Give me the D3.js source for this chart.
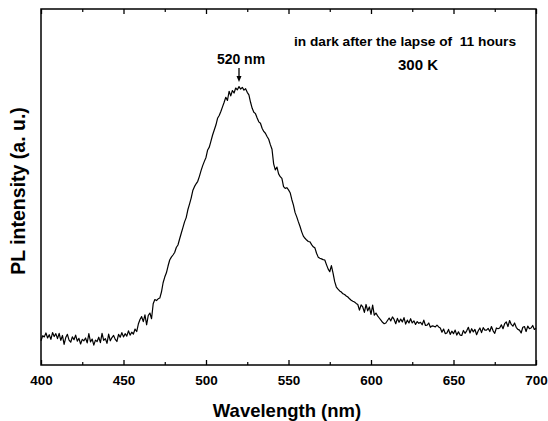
<!DOCTYPE html>
<html><head><meta charset="utf-8">
<script src="https://cdn.jsdelivr.net/npm/d3@7"></script>
<style>body{margin:0;background:#fff}svg{display:block}text{font-family:"Liberation Sans",Arial,sans-serif;fill:#000}</style>
</head><body><svg id="c" width="548" height="421"></svg>
<script>
const wlStart = 400, wlStep = 1;
const intensity = [
6.8,8.2,7.9,9.0,7.6,8.5,7.2,9.1,8.0,8.8,
7.4,8.9,6.9,8.3,5.8,7.7,8.6,7.0,6.4,7.9,
7.1,8.4,6.7,7.5,5.9,7.2,6.8,7.6,6.2,8.8,
6.5,7.3,5.6,7.0,6.6,7.8,6.3,8.9,6.9,7.4,
6.1,8.7,6.8,7.7,8.3,7.2,6.6,8.6,7.8,9.1,
7.9,8.8,8.1,9.6,8.4,9.2,8.7,10.1,9.4,11.5,
12.8,13.6,12.2,14.1,11.3,13.9,14.6,13.0,17.2,18.4,
18.1,18.6,18.8,20.5,23.1,24.7,25.9,27.8,29.5,30.3,
30.9,31.6,33.0,33.7,35.4,37.0,38.6,40.2,41.4,43.6,
45.2,46.9,49.0,50.1,50.9,51.6,53.0,54.6,56.0,57.2,
58.3,60.4,61.2,62.9,64.6,66.0,67.4,69.3,70.1,71.2,
72.5,73.8,75.2,74.3,76.9,75.6,77.1,76.4,77.8,77.3,
78.2,77.5,78.0,77.2,77.6,76.6,75.9,73.8,72.1,71.0,
70.6,69.4,68.3,67.9,66.5,65.6,65.1,64.2,63.4,61.9,
60.6,56.5,54.8,55.6,53.7,52.9,52.4,50.1,49.6,49.8,
49.2,48.4,46.5,44.9,42.8,41.6,40.2,38.9,37.4,36.2,
35.6,35.1,34.7,34.6,33.8,33.2,32.9,31.4,30.3,30.0,
29.8,29.6,29.5,28.2,27.0,26.2,27.9,25.8,23.4,21.9,
21.3,20.8,20.5,20.0,19.8,19.4,19.1,18.6,18.2,17.9,
17.7,17.3,17.0,15.4,16.9,16.3,14.8,17.0,15.2,16.3,
14.2,16.8,14.0,14.6,13.8,13.2,12.6,12.0,11.6,11.8,
12.5,13.2,12.4,13.5,12.8,11.6,13.1,12.0,12.9,12.1,
13.3,11.5,12.6,11.8,13.0,11.8,12.4,11.4,12.2,11.7,
12.0,11.3,12.6,11.1,11.2,11.8,10.6,11.0,10.9,10.7,
11.2,10.7,10.4,9.2,10.1,8.8,9.0,10.0,8.6,9.5,
8.8,9.8,8.4,9.3,8.4,8.3,9.7,8.9,9.6,10.6,
9.0,10.2,9.3,10.0,8.5,9.6,10.4,9.1,10.5,9.8,
9.8,10.3,9.4,10.8,9.6,8.9,10.4,10.2,10.4,11.3,
10.2,11.6,12.1,10.8,12.5,11.4,10.9,11.8,10.6,10.0,
9.8,9.0,10.6,10.8,9.4,10.9,10.2,10.4,11.1,10.0,
10.3
];
const majorTicks = [400,450,500,550,600,650,700];
const minorTicks = [425,475,525,575,625,675];
const xLabel = "Wavelength (nm)";
const yLabel = "PL intensity (a. u.)";
const peakLabel = "520 nm";
const peakWl = 520;
const note1 = "in dark after the lapse of  11 hours";
const note2 = "300 K";

const svg = d3.select("#c");
const L = 41, R = 536, T = 9, B = 365;
const x = d3.scaleLinear().domain([400,700]).range([L,R]);
const y = d3.scaleLinear().domain([0,100]).range([B,T]);
const data = intensity.map((v,i)=>({wl: wlStart + i*wlStep, v}));

const g = svg.append("g");
g.append("g").attr("transform",`translate(0,${B})`)
  .call(d3.axisBottom(x).tickValues(majorTicks).tickSize(-5).tickFormat(d3.format("d")).tickPadding(10))
  .call(a=>{a.select(".domain").remove();a.selectAll("text").attr("font-size",13.5).attr("font-weight","bold").attr("fill","#000");a.selectAll("line").attr("stroke","#000").attr("stroke-width",1.3);});
g.append("g").attr("transform",`translate(0,${B})`)
  .call(d3.axisBottom(x).tickValues(minorTicks).tickSize(-3).tickFormat(""))
  .call(a=>{a.select(".domain").remove();a.selectAll("line").attr("stroke","#000").attr("stroke-width",1.2);});
g.append("g").attr("transform",`translate(0,${T})`)
  .call(d3.axisTop(x).tickValues(majorTicks).tickSize(-5).tickFormat(""))
  .call(a=>{a.select(".domain").remove();a.selectAll("line").attr("stroke","#000").attr("stroke-width",1.3);});
g.append("g").attr("transform",`translate(0,${T})`)
  .call(d3.axisTop(x).tickValues(minorTicks).tickSize(-3).tickFormat(""))
  .call(a=>{a.select(".domain").remove();a.selectAll("line").attr("stroke","#000").attr("stroke-width",1.2);});

svg.append("rect").attr("x",L).attr("y",T).attr("width",R-L).attr("height",B-T)
  .attr("fill","none").attr("stroke","#000").attr("stroke-width",1.5);

svg.append("path").datum(data)
  .attr("d", d3.line().x(d=>x(d.wl)).y(d=>y(d.v)))
  .attr("fill","none").attr("stroke","#000").attr("stroke-width",1.2).attr("stroke-linejoin","round");

const px = x(peakWl);
svg.append("text").attr("x",px+2).attr("y",64).attr("text-anchor","middle")
  .attr("font-size",14).attr("font-weight","bold").text(peakLabel);
svg.append("line").attr("x1",px).attr("x2",px).attr("y1",68).attr("y2",78).attr("stroke","#000").attr("stroke-width",1.3);
svg.append("path").attr("d",`M${px-2.5},76 L${px+2.5},76 L${px},82 Z`).attr("fill","#000");

svg.append("text").attr("x",405).attr("y",46).attr("text-anchor","middle").style("white-space","pre")
  .attr("font-size",13.7).attr("font-weight","bold").text(note1);
svg.append("text").attr("x",418).attr("y",70).attr("text-anchor","middle")
  .attr("font-size",15).attr("font-weight","bold").text(note2);

svg.append("text").attr("x",287).attr("y",417).attr("text-anchor","middle")
  .attr("font-size",18.5).attr("font-weight","bold").text(xLabel);
svg.append("text").attr("transform",`translate(25,191) rotate(-90)`).attr("text-anchor","middle")
  .attr("font-size",19.5).attr("font-weight","bold").text(yLabel);
</script></body></html>
